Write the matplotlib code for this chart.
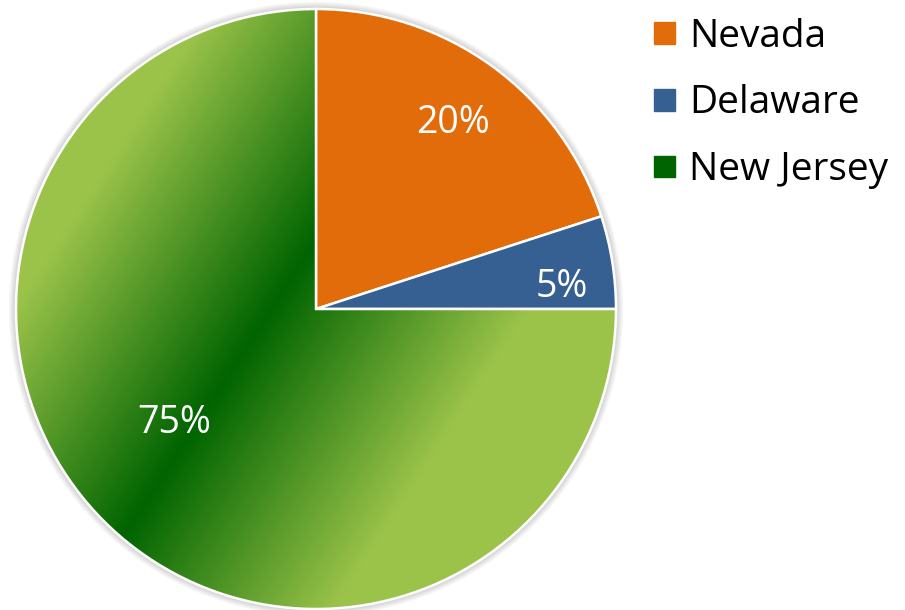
import matplotlib.pyplot as plt
import matplotlib.patches as mpatches
import numpy as np

# Data
states = ['Nevada', 'Delaware', 'New Jersey']
shares = [20, 5, 75]
pct_labels = ['20%', '5%', '75%']
colors = ['#E36C0A', '#376092', '#006400']

W, H = 905, 610
fig = plt.figure(figsize=(W / 100, H / 100), dpi=100)

# pie centre and radius in pixels
cx, cy, r = 316, 309, 300
ax = fig.add_axes([(cx - r) / W, (H - cy - r) / H, 2 * r / W, 2 * r / H])

wedges, _ = ax.pie(shares, colors=colors, startangle=90, counterclock=False,
                   radius=1, frame=False,
                   wedgeprops=dict(edgecolor='white', linewidth=1.8))
for w in wedges:
    w.set_zorder(2)
ax.set_aspect('equal')
ax.axis('off')

# soft shadow round the pie
for k in range(7):
    ax.add_patch(mpatches.Circle((0, 0), 1 + 0.004 * k, color='#000000',
                                 alpha=0.03, lw=0, zorder=0, clip_on=False))

# gradient fill for New Jersey: dark band along a diagonal, light on both sides
nj = wedges[2]
nj.set_facecolor('none')
nj.set_zorder(3)
n = 600
xs = np.linspace(-1, 1, n)
X, Y = np.meshgrid(xs, xs[::-1])
bx, by = -0.183, -0.053
nx, ny = 0.838, -0.545
d = (X - bx) * nx + (Y - by) * ny
t = np.clip(np.abs(d) / 0.72, 0, 1)
dark = np.array([0, 100, 0]) / 255
light = np.array([155, 195, 74]) / 255
img = dark[None, None, :] + (light - dark)[None, None, :] * t[..., None]
im = ax.imshow(img, extent=(-1, 1, -1, 1), origin='upper', zorder=2.5,
               interpolation='bilinear')
im.set_clip_path(nj)
ax.set_xlim(-1, 1)
ax.set_ylim(-1, 1)

# percentage labels
label_pos = [(453, 123), (562, 287), (174, 423)]
for (px, py), txt in zip(label_pos, pct_labels):
    fig.text(px / W, 1 - py / H, txt, color='white', fontsize=27,
             family='Open Sans', ha='center', va='center', zorder=5)

# legend
rows = [33, 100, 166]
baselines = [47, 113, 180]
for y, yb, name, c in zip(rows, baselines, states, colors):
    fig.patches.append(mpatches.Rectangle((654 / W, 1 - (y + 10.5) / H), 21 / W, 21 / H,
                                          transform=fig.transFigure, color=c))
    fig.text(689 / W, 1 - yb / H, name, color='black', fontsize=28,
             family='Open Sans', ha='left', va='baseline')

fig.savefig('out.png', dpi=100)
